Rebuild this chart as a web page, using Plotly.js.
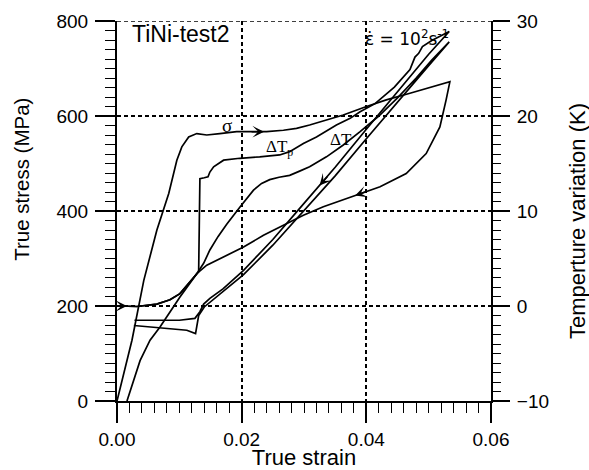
<!DOCTYPE html>
<html>
<head>
<meta charset="utf-8">
<script src="https://cdn.plot.ly/plotly-3.0.1.min.js"></script>
<style>html,body{margin:0;padding:0;background:#fff;}#chart{width:589px;height:470px;}</style>
</head>
<body>
<div id="chart"></div>
<script>
// ---- data ----
// True stress (MPa) vs true strain: loading then unloading
var sigmaStrain = [0, 0.0024, 0.0043, 0.0064, 0.0083, 0.0096, 0.0104, 0.0115, 0.0128, 0.0144, 0.0165, 0.0192, 0.0219, 0.0240, 0.0267, 0.0288, 0.0309, 0.0336, 0.0363, 0.0398, 0.0432, 0.0470, 0.0507, 0.0534,
  0.0528, 0.0518, 0.0496, 0.0464, 0.0422, 0.0384, 0.0347, 0.0331, 0.0299, 0.0267, 0.0235, 0.0203, 0.0171, 0.0144, 0.0128, 0.0101, 0.0069, 0.0053, 0.0037, 0.0016];
var sigmaStress = [0, 128, 254, 360, 437, 507, 535, 556, 563, 560, 563, 567, 567, 567, 570, 574, 581, 591, 602, 619, 634, 648, 662, 672,
  634, 577, 521, 479, 451, 433, 416, 409, 391, 370, 349, 324, 303, 286, 268, 219, 156, 128, 85, 0];

// Temperature variation dTp (K)
var dTpStrain = [0.0003, 0.0032, 0.0064, 0.0085, 0.0101, 0.0117, 0.0128, 0.0131, 0.0132, 0.0133, 0.0140, 0.0146, 0.0149, 0.0155, 0.0171, 0.0197, 0.0229, 0.0261, 0.0277, 0.0299, 0.0320, 0.0352, 0.0374, 0.0390, 0.0414, 0.0445, 0.0470, 0.0478, 0.0484, 0.0490, 0.0505, 0.0533,
  0.0500, 0.0450, 0.0400, 0.0350, 0.0328, 0.0300, 0.0250, 0.0203, 0.0170, 0.0149, 0.0139, 0.0133, 0.0125, 0.0100, 0.0060, 0.0028];
var dTpTemp = [0, -0.05, 0.2, 0.65, 1.3, 2.55, 3.3, 3.6, 8.5, 13.4, 13.5, 13.6, 14.1, 14.65, 15.35, 15.55, 15.7, 15.9, 16.25, 17.1, 17.8, 19.05, 19.75, 20.45, 21.3, 23.05, 24.9, 26.2, 26.6, 27.3, 27.95, 28.9,
  26.5, 22.6, 18.6, 14.6, 12.9, 10.8, 7.0, 3.75, 1.8, 0.8, 0.2, -0.6, -1.3, -1.5, -1.5, -1.5];

// Temperature variation dT (K)
var dTStrain = [0.0003, 0.0032, 0.0064, 0.0085, 0.0101, 0.0117, 0.0128, 0.0139, 0.0149, 0.0162, 0.0176, 0.0197, 0.0210, 0.0219, 0.0232, 0.0245, 0.0260, 0.0277, 0.0293, 0.0309, 0.0336, 0.0363, 0.0390, 0.0420, 0.0450, 0.0480, 0.0505, 0.0533,
  0.0500, 0.0450, 0.0400, 0.0350, 0.0300, 0.0250, 0.0203, 0.0170, 0.0150, 0.0140, 0.0131, 0.0126, 0.0112, 0.0085, 0.0059, 0.0027];
var dTTemp = [0, -0.05, 0.2, 0.65, 1.3, 2.55, 3.4, 4.5, 5.9, 7.3, 8.6, 10.4, 11.5, 12.2, 12.9, 13.3, 13.55, 13.75, 14.2, 14.65, 15.7, 16.95, 18.35, 20.0, 21.9, 24.0, 25.9, 27.8,
  25.3, 21.5, 17.6, 13.7, 10.0, 6.4, 3.3, 1.5, 0.5, -0.1, -1.0, -2.9, -2.55, -2.4, -2.2, -2.05];

// axis ranges / tick steps
var strainRange = [0, 0.06], strainStep = 0.02, strainMinor = 0.002;
var stressRange = [0, 800], stressStep = 200, stressMinor = 20;
var tempRange = [-10, 30], tempStep = 10, tempMinor = 1;

var sans = 'Liberation Sans, Arial, Helvetica, sans-serif';
var serif = 'Liberation Serif, Times New Roman, serif';
var lineStyle = {color: '#000', width: 1.7};

var traces = [
  {x: sigmaStrain, y: sigmaStress, mode: 'lines', line: lineStyle, name: 'σ', xaxis: 'x', yaxis: 'y', hoverinfo: 'skip'},
  {x: dTpStrain, y: dTpTemp, mode: 'lines', line: lineStyle, name: 'ΔTp', xaxis: 'x', yaxis: 'y2', hoverinfo: 'skip'},
  {x: dTStrain, y: dTTemp, mode: 'lines', line: lineStyle, name: 'ΔT', xaxis: 'x', yaxis: 'y2', hoverinfo: 'skip'}
];

function arrow(x, y, yref, ax, ay) {
  return {x: x, y: y, xref: 'x', yref: yref, text: '', showarrow: true, arrowhead: 3, arrowsize: 1.3, arrowwidth: 1.5, arrowcolor: '#000', ax: ax, ay: ay, standoff: 0, startstandoff: 0};
}

var layout = {
  width: 589, height: 470,
  margin: {l: 117, r: 98, t: 21, b: 69, pad: 0},
  paper_bgcolor: '#fff', plot_bgcolor: '#fff',
  showlegend: false,
  font: {family: sans, size: 19, color: '#000'},
  xaxis: {
    range: strainRange, dtick: strainStep, tickformat: '.2f',
    ticks: 'outside', ticklen: 20, tickwidth: 2, tickcolor: '#000',
    minor: {dtick: strainMinor, ticks: 'outside', ticklen: 10, tickwidth: 1, tickcolor: '#000'},
    showline: true, linecolor: '#000', linewidth: 2,
    showgrid: true, gridcolor: '#000', gridwidth: 1.5, griddash: '4px,3px',
    zeroline: false, tickfont: {family: sans, size: 19},
    title: {text: 'True strain', font: {family: sans, size: 22}, standoff: 2}
  },
  yaxis: {
    range: stressRange, dtick: stressStep,
    ticks: 'outside', ticklen: 20, tickwidth: 2, tickcolor: '#000',
    minor: {dtick: stressMinor, ticks: 'outside', ticklen: 10, tickwidth: 1, tickcolor: '#000'},
    showline: true, linecolor: '#000', linewidth: 2,
    showgrid: true, gridcolor: '#000', gridwidth: 1.5, griddash: '4px,3px',
    zeroline: false, tickfont: {family: sans, size: 19}, ticklabelstandoff: 3
  },
  yaxis2: {
    range: tempRange, dtick: tempStep, overlaying: 'y', side: 'right', anchor: 'x',
    ticks: 'outside', ticklen: 17, tickwidth: 2, tickcolor: '#000',
    minor: {dtick: tempMinor, ticks: 'outside', ticklen: 8, tickwidth: 1, tickcolor: '#000'},
    showline: true, linecolor: '#000', linewidth: 2,
    showgrid: false, zeroline: false, tickfont: {family: sans, size: 19}, ticklabelstandoff: 3
  },
  shapes: [
    {type: 'line', xref: 'paper', yref: 'y', x0: 0, x1: 1, y0: stressRange[1], y1: stressRange[1], line: {color: '#000', width: 1.5, dash: '4px,3px'}}
  ],
  annotations: [
    {xref: 'paper', yref: 'paper', x: -0.254, y: 0.582, text: 'True stress (MPa)', textangle: -90, showarrow: false, font: {family: sans, size: 20.5}, xanchor: 'center', yanchor: 'middle'},
    {xref: 'paper', yref: 'paper', x: 1.233, y: 0.474, text: 'Temperture variation (K)', textangle: -90, showarrow: false, font: {family: sans, size: 22}, xanchor: 'center', yanchor: 'middle'},
    {xref: 'x', yref: 'y', x: 0.01026, y: 772, text: 'TiNi-test2', showarrow: false, font: {family: sans, size: 23}, xanchor: 'center', yanchor: 'middle'},
    {xref: 'x', yref: 'y', x: 0.0465, y: 764, text: 'ε̇ = 10<sup>2</sup>s<sup>-1</sup>', showarrow: false, font: {family: 'DejaVu Sans, sans-serif', size: 17}, xanchor: 'center', yanchor: 'middle'},
    {xref: 'x', yref: 'y', x: 0.0176, y: 579, text: 'σ', showarrow: false, font: {family: serif, size: 19}, xanchor: 'center', yanchor: 'middle'},
    {xref: 'x', yref: 'y', x: 0.0260, y: 533, text: 'ΔT<sub>p</sub>', showarrow: false, font: {family: serif, size: 17}, xanchor: 'center', yanchor: 'middle'},
    {xref: 'x', yref: 'y', x: 0.0359, y: 551, text: 'ΔT', showarrow: false, font: {family: serif, size: 17}, xanchor: 'center', yanchor: 'middle'},
    arrow(0.0236, 567, 'y', -14, 0),
    arrow(0.0382, 432.5, 'y', 13, -4.6),
    arrow(0.0325, 12.68, 'y2', 9, -10.3),
    arrow(0.0016, 0, 'y2', -10, 0)
  ]
};

Plotly.newPlot('chart', traces, layout, {displayModeBar: false});
</script>
</body>
</html>
